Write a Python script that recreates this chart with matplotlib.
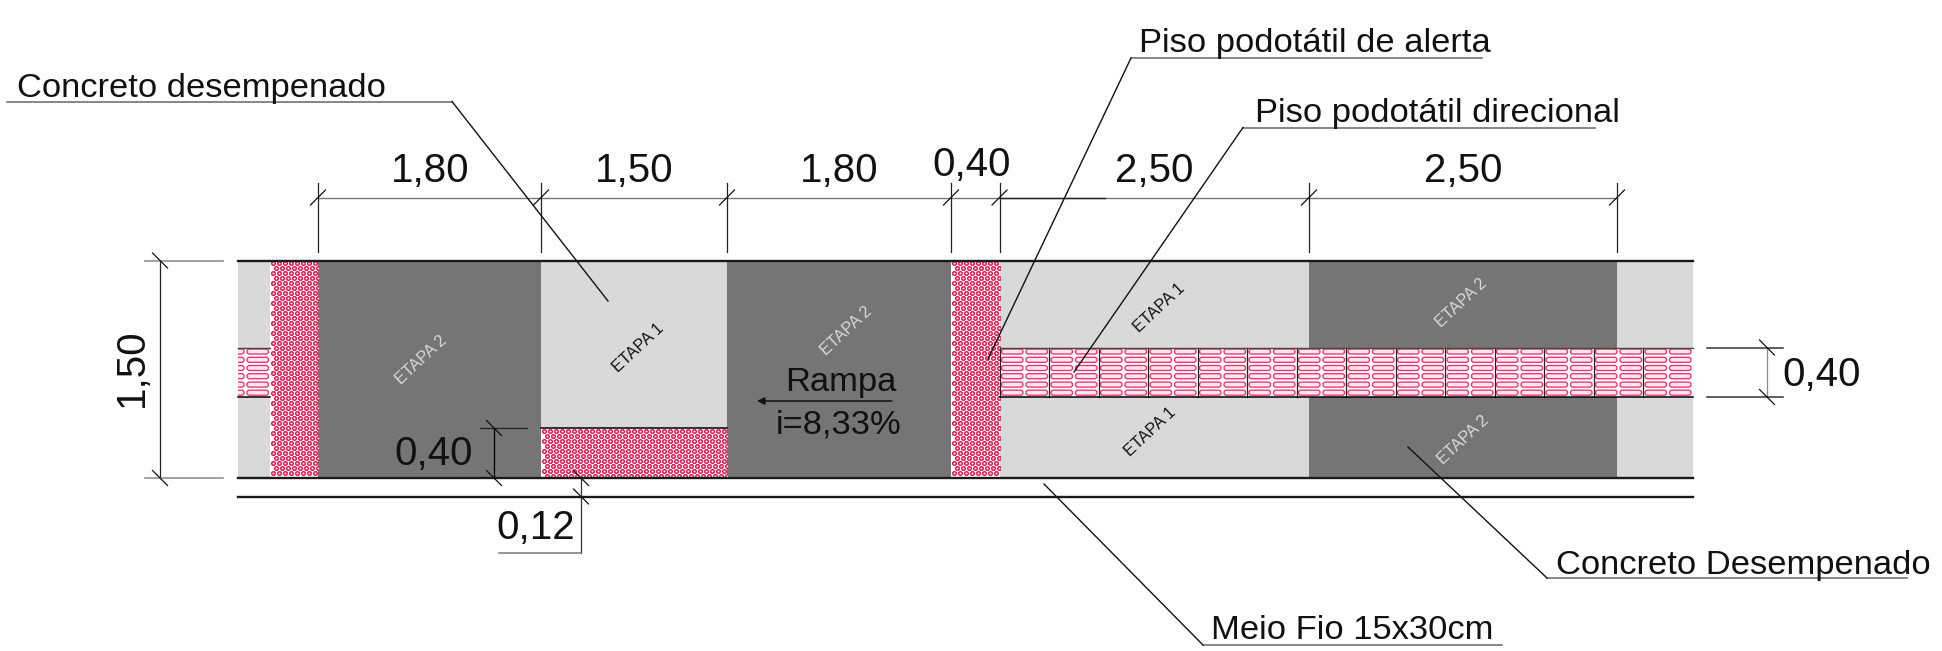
import matplotlib
matplotlib.use("Agg")
import matplotlib.pyplot as plt
from matplotlib.patches import Rectangle, FancyBboxPatch

plt.rcParams['font.family'] = ['Liberation Sans', 'DejaVu Sans']

# Drawing coordinates (reference pixels)
strip_x = [237.5, 270, 318, 541, 727, 951, 999.5, 1309, 1617, 1693]
strip_kind = ['light', 'alert', 'dark', 'light', 'dark', 'alert', 'light', 'dark', 'light']
y_top, y_bot, y_curb = 260.5, 478, 496.5
dir_top, dir_bot = 347.5, 397
cell_w = 49.5
ramp_x = [541, 727]
ramp_y = [428, 478]
slot_rows = [351.5, 359.8, 368, 376.2, 384.6, 392.7]

dim_x = [318, 541, 727, 951, 999.5, 1309, 1617]
dim_labels = ['1,80', '1,50', '1,80', '0,40', '2,50', '2,50']
dim_label_x = [430, 634, 839, 972, 1154, 1463]
dim_label_y = [171, 171, 171, 165, 171, 171]

etapa_text = ['ETAPA 2', 'ETAPA 1', 'ETAPA 2', 'ETAPA 1', 'ETAPA 2', 'ETAPA 1', 'ETAPA 2']
etapa_x = [421, 638, 846, 1159, 1461, 1150, 1463]
etapa_y = [360, 348, 331, 308, 303, 432, 440]

leader_text = ['Concreto desempenado', 'Piso podotátil de alerta', 'Piso podotátil direcional',
               'Concreto Desempenado', 'Meio Fio 15x30cm']
leader_text_x = [17, 1139, 1255, 1556, 1211]
leader_text_y = [97, 52, 122, 574, 639]
leader_x0 = [7, 1131, 1243, 1547, 1203]
leader_x1 = [452, 1482, 1595, 1907, 1502]
leader_y = [101.5, 58, 127.5, 578, 645]
leader_tip_x = [608, 988, 1074, 1408, 1044]
leader_tip_y = [301, 359, 372, 447, 484]

RED = '#e8174f'
DARK = '#757575'
LIGHT = '#d9d9d9'
FS = 29
FS_NOTE = 24.8

fig = plt.figure(figsize=(19.42, 6.51), dpi=100)
ax = fig.add_axes([0, 0, 1, 1])
ax.set_xlim(0, 1942)
ax.set_ylim(651, 0)
ax.axis('off')


def alert(x0, x1, y0, y1):
    bg = Rectangle((x0, y0), x1 - x0, y1 - y0, fc='white', ec='none', zorder=2)
    ax.add_patch(bg)
    xs, ys = [], []
    row = 0
    y = y0 + 2.5
    while y < y1:
        x = x0 + 2.5 + (3 if row % 2 else 0)
        while x < x1:
            xs.append(x)
            ys.append(y)
            x += 6.0
        y += 5.0
        row += 1
    sc = ax.scatter(xs, ys, s=6.5, facecolors='white', edgecolors=RED, linewidths=1.1, zorder=3)
    sc.set_clip_path(bg)


def slots(x0, clip):
    for r in slot_rows:
        for sx0, sx1 in [(x0 + 2, x0 + 23.5), (x0 + 26.5, x0 + 48)]:
            p = FancyBboxPatch((sx0, r - 2.5), sx1 - sx0, 5,
                               boxstyle='round,pad=0,rounding_size=2.4',
                               fc='#fde6ec', ec='#e9346a', lw=0.95, zorder=3)
            ax.add_patch(p)
            p.set_clip_path(clip)


# Pavement blocks
for i, k in enumerate(strip_kind):
    x0, x1 = strip_x[i], strip_x[i + 1]
    if k == 'alert':
        continue
    ax.add_patch(Rectangle((x0, y_top), x1 - x0, y_bot - y_top,
                           fc=DARK if k == 'dark' else LIGHT, ec='none', zorder=1))

# Directional tactile band
band_l = Rectangle((237.5, dir_top), 270 - 237.5, dir_bot - dir_top, fc='white', ec='none', zorder=1.5)
band_r = Rectangle((999.5, dir_top), 1693 - 999.5, dir_bot - dir_top, fc='white', ec='none', zorder=1.5)
ax.add_patch(band_l)
ax.add_patch(band_r)
x = 999.5
for n in range(14):
    slots(x, band_r)
    ax.plot([x, x], [dir_top, dir_bot], color='#222222', lw=0.9, zorder=4)
    x += cell_w
slots(270 - cell_w, band_l)
for a, b in [(237.5, 270), (999.5, 1693)]:
    ax.plot([a, b], [dir_top, dir_top], color='#444444', lw=1.0, zorder=4)
    ax.plot([a, b], [dir_bot, dir_bot], color='black', lw=1.1, zorder=4)

# Alert strips
alert(270, 318, y_top, y_bot)
alert(951, 999.5, y_top, y_bot)
alert(ramp_x[0], ramp_x[1], ramp_y[0], ramp_y[1])
ax.plot(ramp_x, [ramp_y[0], ramp_y[0]], color='#111111', lw=1.2, zorder=4)

# Kerb lines
for y in [y_top, y_bot, y_curb]:
    ax.plot([237.5, 1693], [y, y], color='#1a1a1a', lw=1.7, zorder=5)


def tick(x, y):
    ax.plot([x - 7.5, x + 7.5], [y + 7.5, y - 7.5], color='#111111', lw=0.9, zorder=6)


def tick2(x, y):
    ax.plot([x - 7.5, x + 7.5], [y - 7.5, y + 7.5], color='#111111', lw=0.9, zorder=6)


# Top dimension chain
ax.plot([dim_x[0], dim_x[-1]], [197.5, 197.5], color='#777777', lw=1.0, zorder=6)
ax.plot([999.5, 1105], [197.5, 197.5], color='#222222', lw=1.0, zorder=6)
for x in dim_x:
    ax.plot([x, x], [183, 252], color='#222222', lw=0.9, zorder=6)
    tick(x, 197.5)
for t, x, y in zip(dim_labels, dim_label_x, dim_label_y):
    ax.text(x, y, t, fontsize=FS, ha='center', va='center', color='#111111', zorder=7)

# Left dimension
ax.plot([160, 160], [260.5, 478], color='#222222', lw=0.9, zorder=6)
for y in [260.5, 478]:
    ax.plot([145, 223], [y, y], color='#888888', lw=1.1, zorder=6)
    tick2(160, y)
ax.text(132, 368, '1,50', fontsize=FS, rotation=90, ha='center', va='center', color='#111111', zorder=7)

# Right dimension
ax.plot([1767, 1767], [347.5, 397], color='#888888', lw=0.9, zorder=6)
for y in [347.5, 397]:
    ax.plot([1707, 1783], [y, y], color='#333333', lw=1.1, zorder=6)
    tick2(1767, y)
ax.text(1822, 375, '0,40', fontsize=FS, ha='center', va='center', color='#111111', zorder=7)

# Ramp height dimension
ax.plot([494, 494], [428, 478], color='black', lw=0.9, zorder=6)
ax.plot([480, 527], [428, 428], color='#222222', lw=0.9, zorder=6)
tick2(494, 428)
tick2(494, 478)
ax.text(434, 454, '0,40', fontsize=FS, ha='center', va='center', color='#111111', zorder=7)

# Kerb width dimension
ax.plot([581, 581], [478, 553], color='#333333', lw=0.9, zorder=6)
ax.plot([499, 581], [553, 553], color='#777777', lw=1.1, zorder=6)
tick2(581, 478)
tick2(581, 496.5)
ax.text(536, 528, '0,12', fontsize=FS, ha='center', va='center', color='#111111', zorder=7)

# Ramp label and arrow
ax.text(841, 382, 'Rampa', fontsize=FS_NOTE, ha='center', va='center', color='#111111', zorder=7)
ax.text(839, 425, 'i=8,33%', fontsize=FS_NOTE, ha='center', va='center', color='#111111', zorder=7)
ax.annotate('', xy=(757, 401), xytext=(892, 401),
            arrowprops=dict(arrowstyle='-|>', color='#111111', lw=1.1, mutation_scale=11, shrinkA=0, shrinkB=0),
            zorder=7)

# ETAPA labels
for t, x, y in zip(etapa_text, etapa_x, etapa_y):
    on_dark = t.endswith('2')
    ax.text(x, y, t, fontsize=11.7, rotation=43, ha='center', va='center', rotation_mode='anchor',
            color=LIGHT if on_dark else '#111111', zorder=7)

# Leaders
for i, t in enumerate(leader_text):
    ax.plot([leader_x0[i], leader_x1[i]], [leader_y[i], leader_y[i]], color='#666666', lw=1.1, zorder=6)
    corner = leader_x1[i] if i == 0 else leader_x0[i]
    ax.plot([corner, leader_tip_x[i]], [leader_y[i], leader_tip_y[i]], color='#111111', lw=1.0, zorder=6)
    ax.text(leader_text_x[i], leader_text_y[i], t, fontsize=FS_NOTE, ha='left', va='baseline',
            color='#111111', zorder=7)

fig.savefig('out.png', dpi=100, facecolor='white')
